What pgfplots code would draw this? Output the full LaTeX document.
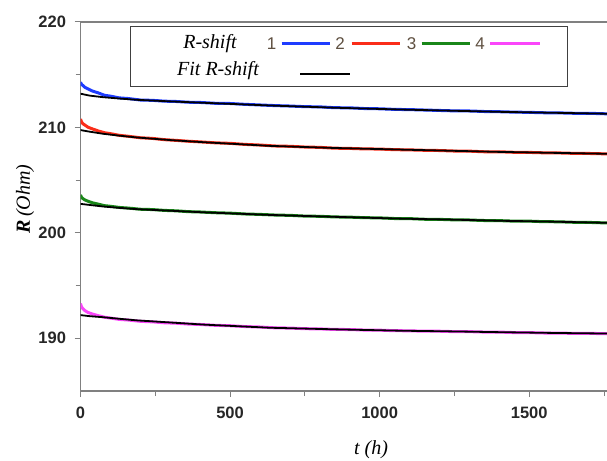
\documentclass[border=0pt]{standalone}
\usepackage{pgfplots}
\usepackage{pgfplotstable}
\pgfplotsset{compat=1.18}
\usepackage{fontspec}
\setmainfont{Liberation Serif}
\setsansfont{Liberation Sans}
\definecolor{cblue}{RGB}{30,60,255}
\definecolor{cred}{RGB}{250,45,25}
\definecolor{cgreen}{RGB}{25,135,25}
\definecolor{cmag}{RGB}{250,70,250}
\definecolor{cnum}{RGB}{95,80,65}
\definecolor{caxis}{RGB}{128,128,128}

\pgfplotstableread{
t     d1      d2      d3      d4
0     214.30  210.80  203.60  193.30
3     214.10  210.55  203.40  193.00
8     213.98  210.35  203.25  192.80
15    213.80  210.22  203.12  192.62
25    213.66  210.02  203.00  192.45
40    213.45  209.86  202.85  192.30
60    213.27  209.66  202.72  192.14
80    213.05  209.50  202.58  192.00
100   212.97  209.41  202.52  191.92
130   212.80  209.25  202.41  191.79
160   212.74  209.16  202.35  191.73
200   212.60  209.02  202.24  191.61
240   212.57  208.96  202.21  191.56
280   212.49  208.84  202.13  191.47
320   212.46  208.77  202.09  191.43
360   212.39  208.69  202.01  191.35
400   212.37  208.63  201.98  191.31
450   212.29  208.54  201.91  191.23
500   212.27  208.49  201.87  191.19
550   212.19  208.39  201.79  191.11
600   212.13  208.33  201.75  191.07
650   212.07  208.24  201.69  190.99
700   212.03  208.21  201.66  190.97
750   211.97  208.14  201.59  190.91
800   211.95  208.11  201.57  190.89
850   211.87  208.03  201.51  190.84
900   211.86  208.01  201.49  190.83
950   211.79  207.96  201.44  190.78
1000  211.77  207.95  201.42  190.77
1050  211.71  207.89  201.36  190.72
1100  211.69  207.87  201.35  190.71
1150  211.65  207.83  201.29  190.67
1200  211.61  207.81  201.28  190.67
1250  211.57  207.76  201.23  190.63
1300  211.56  207.75  201.22  190.63
1350  211.51  207.69  201.17  190.59
1400  211.49  207.69  201.16  190.59
1450  211.45  207.64  201.11  190.54
1500  211.43  207.63  201.11  190.54
1550  211.39  207.59  201.06  190.50
1600  211.38  207.58  201.05  190.50
1650  211.34  207.54  201.00  190.46
1700  211.34  207.53  200.99  190.47
1760  211.29  207.49  200.94  190.43
}\datatable

\pgfplotstableread{
t     f1      f2      f3      f4
0     213.20  209.75  202.75  192.20
30    213.02  209.60  202.65  192.10
75    212.87  209.40  202.50  192.00
130   212.74  209.22  202.37  191.85
188   212.62  209.05  202.25  191.70
300   212.47  208.80  202.10  191.50
410   212.34  208.60  201.95  191.30
634   212.08  208.25  201.70  191.00
850   211.87  208.05  201.52  190.85
1068  211.70  207.90  201.35  190.72
1250  211.58  207.78  201.25  190.65
1400  211.48  207.68  201.15  190.58
1600  211.38  207.58  201.05  190.50
1760  211.30  207.50  200.95  190.45
}\fittable

\begin{document}
\begin{tikzpicture}[x=1pt,y=1pt]
\begin{axis}[
  at={(0,0)}, anchor=south west,
  scale only axis, width=526.5pt, height=369pt,
  xmin=0, xmax=1760, ymin=185, ymax=220,
  axis x line*=bottom, axis y line*=left,
  axis line style={caxis, line width=1.3pt},
  xtick={0,500,1000,1500}, minor xtick={250,750,1250,1750},
  ytick={190,200,210,220}, minor ytick={195,205,215},
  tick align=outside, major tick length=6pt, minor tick length=5pt,
  every tick/.style={caxis, line width=1pt},
  ticklabel style={font=\fontsize{16.5}{18}\selectfont\sffamily\bfseries, text=black!85},
  /pgf/number format/assume math mode=true,
  /pgf/number format/1000 sep={},
  scaled ticks=false,
  yticklabel style={xshift=-5pt},
  xticklabel style={yshift=-6pt},
  clip=true,
]
\addplot[cblue, line width=3pt] table[x=t, y=d1] {\datatable};
\addplot[cred, line width=3pt] table[x=t, y=d2] {\datatable};
\addplot[cgreen, line width=3pt] table[x=t, y=d3] {\datatable};
\addplot[cmag, line width=3pt] table[x=t, y=d4] {\datatable};
\addplot[black, line width=1.8pt] table[x=t, y=f1] {\fittable};
\addplot[black, line width=1.8pt] table[x=t, y=f2] {\fittable};
\addplot[black, line width=1.8pt] table[x=t, y=f3] {\fittable};
\addplot[black, line width=1.8pt] table[x=t, y=f4] {\fittable};
\draw[caxis, line width=1.3pt] (rel axis cs:0,1) -- (rel axis cs:1,1);
\end{axis}
% axis labels
\node[rotate=90, font=\fontsize{20}{22}\selectfont] at (-55.5,192) {\textbf{\textit{R}}\,\textit{(Ohm)}};
\node[font=\fontsize{20}{22}\selectfont] at (290.5,-59) {\textit{t (h)}};
% legend box
\draw[black!75, line width=1pt, fill=white] (49.5,304.3) rectangle (486.5,364.3);
\node[font=\fontsize{20}{22}\selectfont\itshape] at (129.5,347.7) {R-shift};
\node[font=\fontsize{20}{22}\selectfont\itshape] at (137.5,320) {Fit R-shift};
\node[font=\fontsize{17}{19}\selectfont\sffamily, text=cnum] at (191.2,347.7) {1};
\draw[cblue, line width=3pt] (201.2,347.7) -- (249.5,347.7);
\node[font=\fontsize{17}{19}\selectfont\sffamily, text=cnum] at (259.5,347.7) {2};
\draw[cred, line width=3pt] (271.2,347.7) -- (319.5,347.7);
\node[font=\fontsize{17}{19}\selectfont\sffamily, text=cnum] at (331.2,347.7) {3};
\draw[cgreen, line width=3pt] (341.2,347.7) -- (389.5,347.7);
\node[font=\fontsize{17}{19}\selectfont\sffamily, text=cnum] at (399.5,347.7) {4};
\draw[cmag, line width=3pt] (409.5,347.7) -- (459.5,347.7);
\draw[black, line width=2.5pt] (219.5,317) -- (269.5,317);
\pgfresetboundingbox
\path (-80.5,-69) rectangle (526.5,391);
\end{tikzpicture}
\end{document}
